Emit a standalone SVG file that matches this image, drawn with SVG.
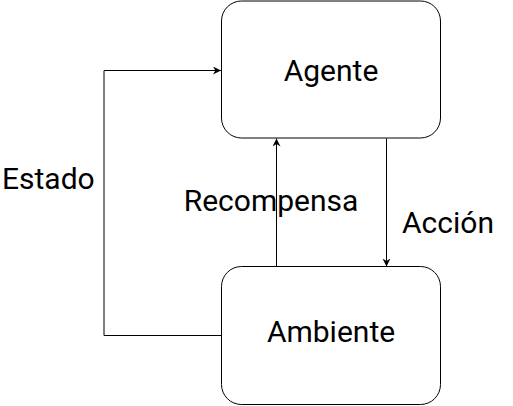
<svg xmlns="http://www.w3.org/2000/svg" width="513" height="406" viewBox="0 0 513 406">
<style>
.box{fill:#fff;stroke:#000;stroke-width:1}
.lbl{font-family:Roboto,"Liberation Sans",sans-serif;font-size:30px;fill:#000}
.c{text-anchor:middle}
.edge{fill:none;stroke:#000;stroke-width:1}
</style>
<defs>
<marker id="arr" viewBox="0 0 10 10" refX="10" refY="5" markerWidth="8" markerHeight="8" markerUnits="userSpaceOnUse" orient="auto">
<path d="M0,0 L10,5 L0,10 L3,5 Z" fill="#000"/>
</marker>
</defs>
<g id="edges">
<path class="edge" d="M221.5,335.5 H104 V70.5 H221" marker-end="url(#arr)"/>
<path class="edge" d="M276.5,266.5 V138.5" marker-end="url(#arr)"/>
<path class="edge" d="M386.5,138.5 V266.5" marker-end="url(#arr)"/>
<text class="lbl" x="2" y="189">Estado</text>
<text class="lbl c" x="271" y="211">Recompensa</text>
<text class="lbl c" x="448" y="233">Acción</text>
</g>
<g id="agente">
<rect class="box" x="221.5" y="1" width="219" height="137" rx="20" ry="20"/>
<text class="lbl c" x="331" y="81">Agente</text>
</g>
<g id="ambiente">
<rect class="box" x="221.5" y="266.5" width="219" height="138" rx="20" ry="20"/>
<text class="lbl c" x="331" y="342">Ambiente</text>
</g>
</svg>
